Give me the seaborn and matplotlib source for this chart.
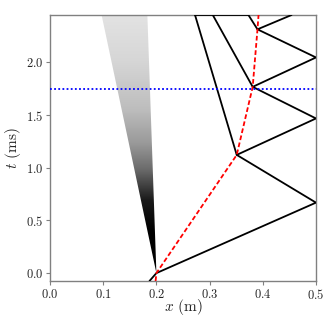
"""Wave diagram: shock reflections in an x-t plane."""
import matplotlib
matplotlib.use("Agg")
import matplotlib.pyplot as plt
import numpy as np
import pandas as pd
import seaborn as sns
from matplotlib.colors import LinearSegmentedColormap
from matplotlib.patches import Polygon

# Shock path (m, ms)
shock_x = [0.187, 0.2, 0.5, 0.351, 0.5, 0.381, 0.5, 0.390, 0.454]
shock_t = [-0.075, 0.0, 0.669, 1.122, 1.468, 1.768, 2.047, 2.314, 2.45]

# Transmitted waves going to the left
trans1_x = [0.351, 0.2726]
trans1_t = [1.122, 2.45]
trans2_x = [0.381, 0.306]
trans2_t = [1.768, 2.45]
trans3_x = [0.390, 0.373]
trans3_t = [2.314, 2.45]
top_x = [0.2726, 0.373]
top_t = [2.45, 2.45]

# Contact discontinuity
contact_x = [0.1985, 0.2, 0.351, 0.381, 0.390, 0.392]
contact_t = [-0.075, 0.0, 1.122, 1.768, 2.314, 2.45]

# Rarefaction fan edges and shading
fan_x = [0.2, 0.097, 0.183]
fan_t = [0.0, 2.45, 2.45]
fan_knots = [0.0, 0.16, 0.28, 0.4, 0.5, 0.63, 0.82, 1.0]
fan_gray = [0.0, 0.0, 0.1, 0.42, 0.6, 0.74, 0.84, 0.89]

probe_t = 1.75

sns.set_theme(style="white")
plt.rcParams["font.family"] = "serif"
plt.rcParams["font.serif"] = ["cmr10", "DejaVu Serif"]
plt.rcParams["mathtext.fontset"] = "cm"
plt.rcParams["axes.formatter.use_mathtext"] = True

fig = plt.figure(figsize=(3.32, 3.32), dpi=100)
ax = fig.add_axes([0.1506, 0.1536, 0.8012, 0.8012])

# fan as a vertical gradient clipped to the wedge
cmap = LinearSegmentedColormap.from_list(
    "fan", [(k, (g, g, g)) for k, g in zip(fan_knots, fan_gray)])
grad = np.linspace(0, 1, 256).reshape(-1, 1)
img = ax.imshow(grad, cmap=cmap, vmin=0, vmax=1, origin="lower", aspect="auto",
                extent=[0.09, 0.21, 0.0, 2.45], interpolation="bilinear", zorder=1)
wedge = Polygon(np.column_stack([fan_x, fan_t]), closed=True, transform=ax.transData,
                facecolor="none", edgecolor="none")
ax.add_patch(wedge)
img.set_clip_path(wedge)

def seg(xs, ts, **kw):
    df = pd.DataFrame({"x": xs, "t": ts})
    sns.lineplot(data=df, x="x", y="t", sort=False, estimator=None, ax=ax, **kw)

for xs, ts in [(shock_x, shock_t), (trans1_x, trans1_t), (trans2_x, trans2_t),
               (trans3_x, trans3_t)]:
    seg(xs, ts, color="black", lw=1.3, zorder=3)
seg(top_x, top_t, color="black", lw=1.3, zorder=3)
seg(contact_x, contact_t, color="red", lw=1.3, linestyle=(0, (2.6, 1.4)), zorder=4)
ax.axhline(probe_t, color="blue", lw=1.3, linestyle=(0, (1, 1.3)), zorder=4)

ax.set_xlim(0, 0.5)
ax.set_ylim(-0.075, 2.45)
ax.set_xticks([0.0, 0.1, 0.2, 0.3, 0.4, 0.5])
ax.set_yticks([0.0, 0.5, 1.0, 1.5, 2.0])
ax.set_xlabel(r"$x$ (m)", fontsize=11)
ax.set_ylabel(r"$t$ (ms)", fontsize=11)
ax.xaxis.set_label_coords(0.5, -0.06)
ax.yaxis.set_label_coords(-0.10, 0.5)
ax.tick_params(axis="both", which="major", labelsize=9, length=3, width=0.8,
               color="0.5", direction="out", bottom=True, left=True, pad=2)
for sp in ax.spines.values():
    sp.set_color("0.5")
    sp.set_linewidth(1.0)

fig.savefig("out.png", dpi=100)
